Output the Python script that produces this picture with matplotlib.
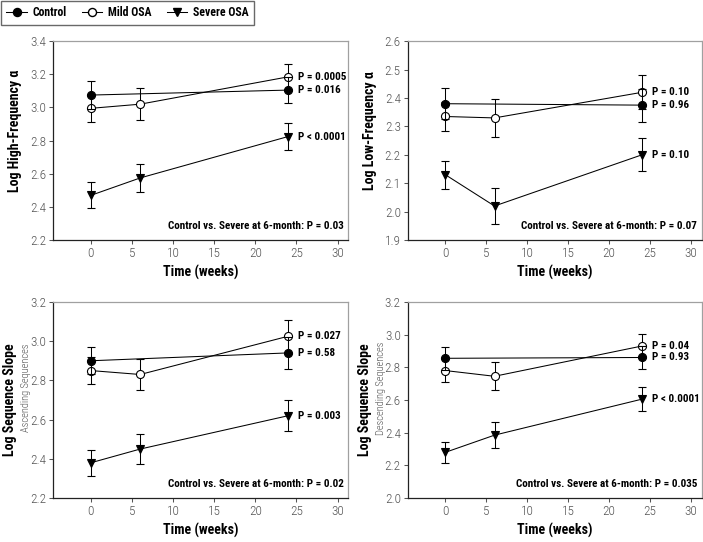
import matplotlib
matplotlib.use("Agg")
import matplotlib.pyplot as plt
from matplotlib.lines import Line2D

plt.rcParams["font.family"] = ["Roboto Condensed", "DejaVu Sans"]

weeks_ctrl = [0, 24]
weeks = [0, 6, 24]

# high-frequency alpha
hf_ctrl = [3.075, 3.105]
hf_ctrl_err = [0.085, 0.08]
hf_mild = [2.995, 3.02, 3.185]
hf_mild_err = [0.08, 0.095, 0.08]
hf_sev = [2.47, 2.575, 2.825]
hf_sev_err = [0.078, 0.087, 0.08]
hf_p = ["P = 0.016", "P = 0.0005", "P < 0.0001"]

# low-frequency alpha
lf_ctrl = [2.38, 2.375]
lf_ctrl_err = [0.055, 0.058]
lf_mild = [2.335, 2.33, 2.42]
lf_mild_err = [0.05, 0.068, 0.06]
lf_sev = [2.13, 2.02, 2.20]
lf_sev_err = [0.05, 0.062, 0.058]
lf_p = ["P = 0.96", "P = 0.10", "P = 0.10"]

# ascending sequences
asc_ctrl = [2.90, 2.94]
asc_ctrl_err = [0.07, 0.08]
asc_mild = [2.85, 2.83, 3.025]
asc_mild_err = [0.07, 0.08, 0.085]
asc_sev = [2.38, 2.45, 2.62]
asc_sev_err = [0.066, 0.077, 0.08]
asc_p = ["P = 0.58", "P = 0.027", "P = 0.003"]

# descending sequences
desc_ctrl = [2.855, 2.86]
desc_ctrl_err = [0.072, 0.072]
desc_mild = [2.78, 2.745, 2.93]
desc_mild_err = [0.068, 0.085, 0.075]
desc_sev = [2.28, 2.385, 2.605]
desc_sev_err = [0.065, 0.08, 0.072]
desc_p = ["P = 0.93", "P = 0.04", "P < 0.0001"]

six_month_p = ["0.03", "0.07", "0.02", "0.035"]

panels = [
    dict(pos=[0.0754, 0.557, 0.42, 0.367], ylim=(2.2, 3.4), yt=[2.2, 2.4, 2.6, 2.8, 3.0, 3.2, 3.4],
         ylab="Log High-Frequency α", sub=None,
         ctrl=(hf_ctrl, hf_ctrl_err), mild=(hf_mild, hf_mild_err), sev=(hf_sev, hf_sev_err), p=hf_p),
    dict(pos=[0.580, 0.557, 0.418, 0.367], ylim=(1.9, 2.6), yt=[1.9, 2.0, 2.1, 2.2, 2.3, 2.4, 2.5, 2.6],
         ylab="Log Low-Frequency α", sub=None,
         ctrl=(lf_ctrl, lf_ctrl_err), mild=(lf_mild, lf_mild_err), sev=(lf_sev, lf_sev_err), p=lf_p),
    dict(pos=[0.0754, 0.081, 0.42, 0.362], ylim=(2.2, 3.2), yt=[2.2, 2.4, 2.6, 2.8, 3.0, 3.2],
         ylab="Log Sequence Slope", sub="Ascending Sequences",
         ctrl=(asc_ctrl, asc_ctrl_err), mild=(asc_mild, asc_mild_err), sev=(asc_sev, asc_sev_err), p=asc_p),
    dict(pos=[0.580, 0.081, 0.418, 0.362], ylim=(2.0, 3.2), yt=[2.0, 2.2, 2.4, 2.6, 2.8, 3.0, 3.2],
         ylab="Log Sequence Slope", sub="Descending Sequences",
         ctrl=(desc_ctrl, desc_ctrl_err), mild=(desc_mild, desc_mild_err), sev=(desc_sev, desc_sev_err), p=desc_p),
]

fig = plt.figure(figsize=(7.03, 5.42), dpi=100)

eb = dict(color="black", lw=0.75, capsize=2.7, elinewidth=0.75, capthick=0.75, ms=5.8, mew=0.8)

for i, pn in enumerate(panels):
    ax = fig.add_axes(pn["pos"])
    c, ce = pn["ctrl"]
    m, me = pn["mild"]
    s, se = pn["sev"]
    ax.errorbar(weeks, s, yerr=se, marker="v", mfc="black", mec="black", zorder=3, **eb)
    ax.errorbar(weeks, m, yerr=me, marker="o", mfc="white", mec="black", zorder=4, **eb)
    ax.errorbar(weeks_ctrl, c, yerr=ce, marker="o", mfc="black", mec="black", zorder=5, **eb)

    # p-value labels beside the 24-week points
    for val, txt in zip([c[-1], m[-1], s[-1]], pn["p"]):
        ax.annotate(txt, (24, val), xytext=(7, 0), textcoords="offset points",
                    ha="left", va="center", fontsize=8, fontweight="bold")
    ax.text(0.985, 0.045, "Control vs. Severe at 6-month: P = " + six_month_p[i],
            transform=ax.transAxes, ha="right", va="bottom", fontsize=8, fontweight="bold")

    ax.set_xlim(-4.6, 31.3)
    ax.set_ylim(*pn["ylim"])
    ax.set_xticks([0, 5, 10, 15, 20, 25, 30])
    ax.set_yticks(pn["yt"])
    ax.set_yticklabels([f"{v:.1f}" for v in pn["yt"]])
    ax.tick_params(direction="out", length=3, width=0.75, labelsize=9.5, colors="#555555", pad=2)
    for lab in ax.get_xticklabels() + ax.get_yticklabels():
        lab.set_fontweight("light")
    for side in ["top", "right"]:
        ax.spines[side].set_color("#a0a0a0")
    for side in ["left", "bottom"]:
        ax.spines[side].set_color("#222222")
    for sp in ax.spines.values():
        sp.set_linewidth(0.9)

    ax.set_xlabel("Time (weeks)", fontsize=10, fontweight="bold")
    ax.xaxis.set_label_coords(0.5, -0.165)
    ax.xaxis.label.set_va("center")
    ax.set_ylabel(pn["ylab"], fontsize=10, fontweight="bold")
    ax.yaxis.label.set_va("center")
    if pn["sub"] is None:
        ax.yaxis.set_label_coords(-0.128, 0.55)
    else:
        ax.yaxis.set_label_coords(-0.145, 0.5)
        ax.text(-0.09, 0.56, pn["sub"], transform=ax.transAxes, rotation=90,
                ha="center", va="center", fontsize=7.5, color="#555555", fontweight="light")

handles = [
    Line2D([], [], color="black", lw=0.75, marker="o", mfc="black", mec="black", ms=5.8),
    Line2D([], [], color="black", lw=0.75, marker="o", mfc="white", mec="black", ms=5.8),
    Line2D([], [], color="black", lw=0.75, marker="v", mfc="black", mec="black", ms=5.8),
]
leg = fig.legend(handles, ["Control", "Mild OSA", "Severe OSA"], loc="upper left",
                 bbox_to_anchor=(0.0, 1.0), borderaxespad=0.1, ncol=3, fancybox=False, frameon=True,
                 handlelength=1.7, columnspacing=1.3, handletextpad=0.5,
                 borderpad=0.45, prop=dict(family=["Roboto Condensed", "DejaVu Sans"], weight="bold", size=8.5))
leg.get_frame().set_edgecolor("#444444")
leg.get_frame().set_linewidth(1.0)

fig.savefig("out.png", dpi=100)
